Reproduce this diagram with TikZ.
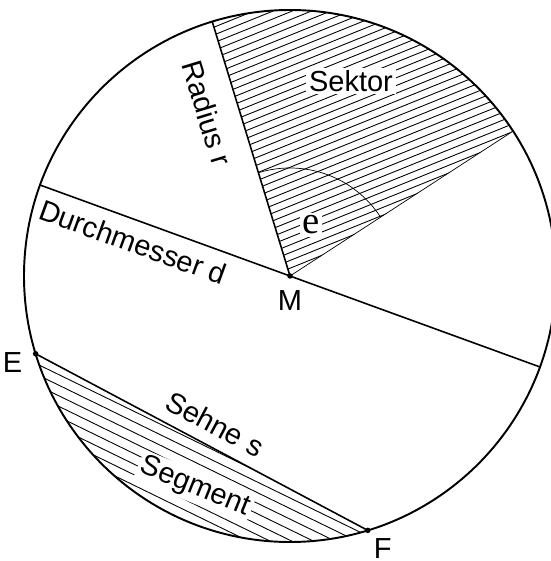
\documentclass[tikz,border=0pt]{standalone}
\usepackage{fontspec}
\setmainfont{Liberation Sans}
\newfontfamily\anglefont{Liberation Serif}
\usetikzlibrary{positioning}
\tikzset{rim/.style={line width=1.1pt},
cut/.style={line width=0.9pt},
hatch/.style={line width=0.5pt},
dot/.style={circle,fill,inner sep=0pt,minimum size=1.1mm},
lbl/.style={font=\fontsize{16.5}{20}\selectfont,inner sep=0pt},
gap/.style={lbl,fill=white,inner sep=1.5pt}}

\begin{document}
\begin{tikzpicture}[x=0.2mm,y=0.2mm]
\useasboundingbox (-290,-285) rectangle (260,276);
\node[dot](M) at (0,0){};
\coordinate (R) at (107:266);
\coordinate (S) at (33:266);
\coordinate (D1) at (160:266);
\coordinate (D2) at (-20:266);
\node[dot](E) at (197:266){};
\node[dot](F) at (287:266){};
% hatched sector
\begin{scope}
\clip (M.center) -- (R) arc[start angle=107,end angle=33,radius=266] -- cycle;
\foreach \k in {-45,...,45}
  \draw[hatch,rotate=22] (-400,\k*7.2) -- (400,\k*7.2);
\end{scope}
% hatched segment
\begin{scope}
\clip (E.center) arc[start angle=197,end angle=287,radius=266] -- cycle;
\foreach \k in {-40,...,40}
  \draw[hatch,rotate=-26] (-400,\k*9.5) -- (400,\k*9.5);
\end{scope}
% lines
\draw[rim] (M.center) circle[radius=266];
\draw[cut] (D1) -- (D2);
\draw[cut] (M.center) -- (R);
\draw (M.center) -- (S);
\draw[cut] (E.center) -- (F.center);
\draw (M.center) ++(107:108) arc[start angle=107,end angle=33,radius=108];
% labels
\node[gap](sek) at (61,195) {Sektor};
\node[lbl,rotate=-73](rad) at (-83,163) {Radius r};
\node[lbl,rotate=-20](dm) at (-157,34) {Durchmesser d};
\node[lbl,below=2.2mm of M](ml) {M};
\node[lbl,left=2mm of E,yshift=-1.8mm](el) {E};
\node[lbl,below=1mm of F,xshift=3mm](fl) {F};
\node[lbl,rotate=-28](seh) at (-75,-148) {Sehne s};
\node[gap,rotate=-22](seg) at (-95,-211) {Segment};
\node[gap,font=\anglefont\fontsize{22}{24}\selectfont](ang) at (21,51) {e};
\end{tikzpicture}
\end{document}
